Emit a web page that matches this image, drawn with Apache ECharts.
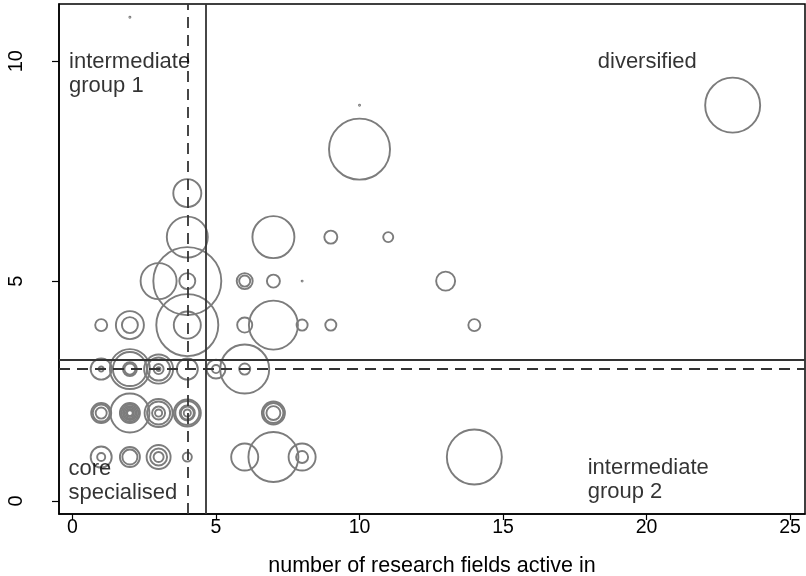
<!DOCTYPE html>
<html>
<head>
<meta charset="utf-8">
<script src="https://cdn.jsdelivr.net/npm/echarts@6/dist/echarts.min.js"></script>
<style>
html,body{margin:0;padding:0;background:#fff;}
#chart{width:806px;height:576px;}
</style>
</head>
<body>
<div id="chart"></div>
<script>
// number of research fields active in (x), vertical position (y), bubble weight (w)
var fieldsX = [
  1,1, 2,2, 3,3,3, 4, 6, 7, 8,8, 14,
  1,1,1, 2,2,2,2,2,2,2, 3,3,3,3, 4,4,4,4,4, 7,7,7,
  1,1, 2,2,2,2, 3,3,3,3, 4, 5,5, 6,6,
  1, 2,2, 4,4, 6, 7, 8, 9, 14,
  3, 4,4, 6,6, 7, 8, 13,
  4, 7, 9, 11,
  4,
  10,
  23, 10,
  2
];
var valuesY = [
  1,1, 1,1, 1,1,1, 1, 1, 1, 1,1, 1,
  2,2,2, 2,2,2,2,2,2,2, 2,2,2,2, 2,2,2,2,2, 2,2,2,
  3,3, 3,3,3,3, 3,3,3,3, 3, 3,3, 3,3,
  4, 4,4, 4,4, 4, 4, 4, 4, 4,
  5, 5,5, 5,5, 5, 5, 5,
  6, 6, 6, 6,
  7,
  8,
  9, 9,
  11
];
var weights = [
  12.3,1.8, 11.1,6.3, 16,8,2.8, 2.3, 20.3, 69.4, 20.3,4, 84,
  11.1,8,3.4, 42.3,11.1,8,5.4,3.4,1.8,0.9, 21.8,14.7,4.7,1.4, 20.3,16,6.3,4.7,1.4, 14.7,11.1,5.4,
  12.3,0.7, 44.4,32.1,5.4,3.4, 23.4,14.7,2.8,0.4, 12.3, 10,1.8, 66.7,3.4,
  4, 21.8,7.1, 106.8,20.3, 6.3, 66.7, 3.4, 3.4, 4,
  36, 128.4,7.1, 7.1,3.4, 4.7, 0.03, 10,
  46.7, 49, 4.7, 2.8,
  21.8,
  103.4,
  84, 0.03,
  0.03
];
var xTicks = [0, 5, 10, 15, 20, 25];
var yTicks = [0, 5, 10];
var groupLabels = ['intermediate\ngroup 1', 'diversified', 'core\nspecialised', 'intermediate\ngroup 2'];
var groupLabelX = [-0.12, 18.3, -0.14, 17.95];
var groupLabelY = [9.7, 9.98, 0.46, 0.47];
var cutSolidX = 4.63, cutDashedX = 4.02;
var cutSolidY = 3.22, cutDashedY = 3.0;

var bubbles = fieldsX.map(function (x, i) { return [x, valuesY[i], weights[i]]; });
var labelsData = groupLabels.map(function (t, i) { return [groupLabelX[i], groupLabelY[i], t]; });

var FONT = '"Liberation Sans", Arial, Helvetica, sans-serif';
var chart = echarts.init(document.getElementById('chart'));
chart.setOption({
  animation: false,
  backgroundColor: '#fff',
  grid: { left: 59, right: 1, top: 4, bottom: 62, show: true, borderColor: '#000', borderWidth: 1.5, backgroundColor: 'transparent', containLabel: false, outerBoundsMode: 'none' },
  xAxis: {
    type: 'value', min: -0.47, max: 25.52,
    name: 'number of research fields active in', nameLocation: 'middle', nameGap: 41,
    nameTextStyle: { fontFamily: FONT, fontSize: 21.5, color: '#000' },
    axisLine: { show: true, onZero: false, lineStyle: { color: '#000', width: 1.5 } },
    axisTick: { show: true, length: 6, lineStyle: { color: '#000', width: 1.2 }, customValues: xTicks },
    axisLabel: { fontFamily: FONT, fontSize: 19.5, color: '#000', margin: 4, customValues: xTicks },
    splitLine: { show: false }
  },
  yAxis: {
    type: 'value', min: -0.295, max: 11.3,
    axisLine: { show: true, onZero: false, lineStyle: { color: '#000', width: 1.5 } },
    axisTick: { show: true, length: 7, lineStyle: { color: '#000', width: 1.2 }, customValues: yTicks },
    axisLabel: { fontFamily: FONT, fontSize: 20, color: '#000', margin: 33, rotate: 90, customValues: yTicks },
    splitLine: { show: false }
  },
  series: [
    {
      type: 'scatter',
      data: bubbles,
      symbol: 'circle',
      symbolSize: function (v) { return 6 * Math.sqrt(v[2]); },
      itemStyle: { color: 'rgba(0,0,0,0)', borderColor: '#7c7c7c', borderWidth: 1.9, opacity: 1 },
      emphasis: { disabled: true },
      silent: true,
      z: 3,
      markLine: {
        silent: true, symbol: 'none', animation: false,
        label: { show: false },
        data: [
          { xAxis: cutSolidX, lineStyle: { color: '#333', width: 1.8, type: 'solid' } },
          { xAxis: cutDashedX, lineStyle: { color: '#333', width: 1.8, type: [11, 7] } },
          { yAxis: cutSolidY, lineStyle: { color: '#333', width: 1.8, type: 'solid' } },
          { yAxis: cutDashedY, lineStyle: { color: '#333', width: 1.8, type: [11, 7] } }
        ]
      }
    },
    {
      type: 'scatter',
      data: labelsData,
      symbolSize: 0,
      silent: true,
      z: 5,
      label: {
        show: true, position: [0, 0], align: 'left', verticalAlign: 'middle',
        fontFamily: FONT, fontSize: 22, lineHeight: 24, color: '#000',
        formatter: function (p) { return p.data[2]; }
      }
    }
  ]
});
</script>
</body>
</html>
